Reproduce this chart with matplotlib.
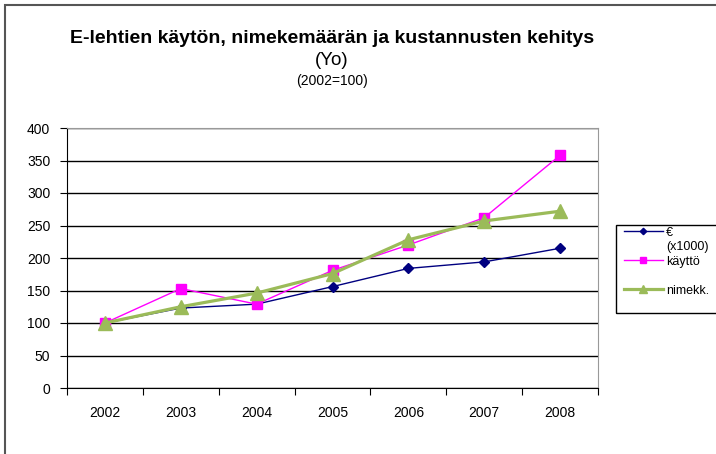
import matplotlib
matplotlib.use("Agg")
import matplotlib.pyplot as plt
from matplotlib.lines import Line2D
from matplotlib.patches import Rectangle

plt.rcParams['font.family'] = ['Liberation Sans', 'DejaVu Sans']

years = ["2002", "2003", "2004", "2005", "2006", "2007", "2008"]
euro = [100, 123, 129, 156, 184, 194, 215]
kaytto = [100, 153, 129, 181, 220, 262, 358]
nimekk = [100, 125, 146, 176, 228, 257, 272]
yticks = [0, 50, 100, 150, 200, 250, 300, 350, 400]

W, H = 716, 454
fig = plt.figure(figsize=(W / 100, H / 100), dpi=100)
ax = fig.add_axes([67 / W, 1 - 388 / H, 531 / W, 260 / H])

x = range(len(years))
l1, = ax.plot(x, euro, color="#000080", lw=1.0, marker="D", ms=5)
l2, = ax.plot(x, kaytto, color="#FF00FF", lw=1.0, marker="s", ms=7.5)
l3, = ax.plot(x, nimekk, color="#9BBB59", lw=2.3, marker="^", ms=9.5)

ax.set_xlim(-0.5, len(years) - 0.5)
ax.set_ylim(0, 400)
ax.set_yticks(yticks)
ax.set_yticklabels([str(v) for v in yticks], fontsize=10)
ax.set_xticks([i + 0.5 for i in range(-1, len(years))])
ax.set_xticklabels([])
ax.set_xticks(list(x), minor=True)
ax.set_xticklabels(years, minor=True, fontsize=10)
ax.tick_params(axis="x", which="minor", length=0, pad=13)
ax.tick_params(axis="x", which="major", length=5, direction="out")
ax.tick_params(axis="y", length=5, direction="out", pad=7)
ax.grid(axis="y", color="black", lw=1)
ax.set_axisbelow(True)
for s in ["top", "right"]:
    ax.spines[s].set_color("#999999")
for s in ["left", "bottom"]:
    ax.spines[s].set_color("black")

cx = 332 / W
fig.text(cx, 1 - 43 / H, "E-lehtien käytön, nimekemäärän ja kustannusten kehitys",
         ha="center", va="baseline", fontsize=14, fontweight="bold")
fig.text(cx, 1 - 65 / H, "(Yo)", ha="center", va="baseline", fontsize=13.5)
fig.text(cx, 1 - 85 / H, "(2002=100)", ha="center", va="baseline", fontsize=10)

# legend: excel-style, second line of the first label and a blank row
blank = Line2D([], [], linestyle="none")
handles = [l1, blank, l2, blank, l3]
labels = ["€", "(x1000)", "käyttö", "", "nimekk."]
leg = fig.legend(handles, labels, loc="upper left",
                 bbox_to_anchor=(624 / W, 1 - 226.5 / H), fontsize=9,
                 frameon=False, handlelength=3.1, handletextpad=0.25,
                 borderpad=0, borderaxespad=0, labelspacing=0.2, markerscale=0.65)
fig.patches.append(Rectangle((616 / W, 1 - 313 / H), 120 / W, 88 / H,
                             transform=fig.transFigure, fill=False,
                             edgecolor="black", lw=1))

# outer chart border (runs off the right and bottom edges)
fig.patches.append(Rectangle((5 / W, -0.05), 1.1, 1 - 5 / H + 0.05,
                             transform=fig.transFigure, fill=False,
                             edgecolor="#555555", lw=1.5))

fig.savefig("out.png", dpi=100, facecolor="white")
